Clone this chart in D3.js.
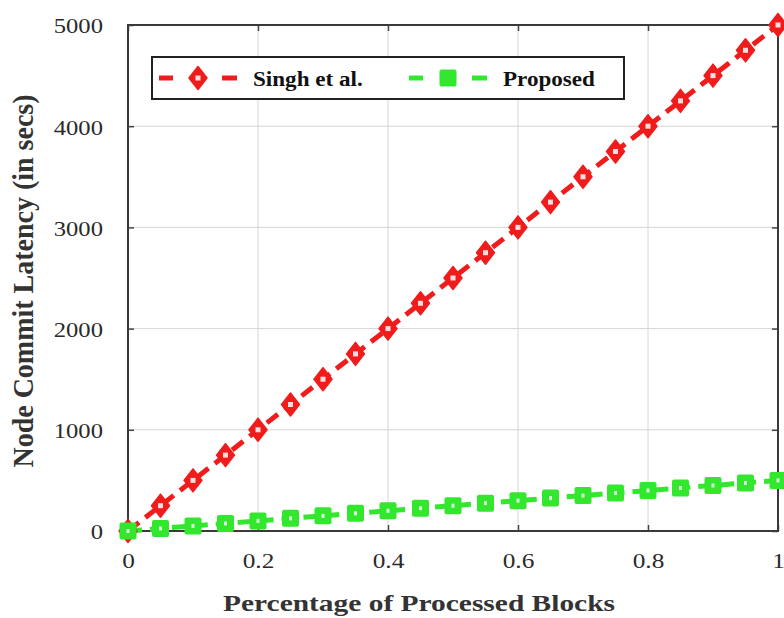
<!DOCTYPE html>
<html>
<head>
<meta charset="utf-8">
<script src="https://cdn.jsdelivr.net/npm/d3@7"></script>
<style>
  body { margin: 0; background: #fff; }
  text { font-family: "Liberation Serif", "Times New Roman", serif; }
</style>
</head>
<body>
<script>
// fraction of processed blocks
var xValues = [0, 0.05, 0.1, 0.15, 0.2, 0.25, 0.3, 0.35, 0.4, 0.45, 0.5,
               0.55, 0.6, 0.65, 0.7, 0.75, 0.8, 0.85, 0.9, 0.95, 1];
var singh = [0, 250, 500, 750, 1000, 1250, 1500, 1750, 2000, 2250, 2500,
             2750, 3000, 3250, 3500, 3750, 4000, 4250, 4500, 4750, 5000];
var proposed = [0, 25, 50, 75, 100, 125, 150, 175, 200, 225, 250,
                275, 300, 325, 350, 375, 400, 425, 450, 475, 500];
var xTicks = [0, 0.2, 0.4, 0.6, 0.8, 1];
var yTicks = [0, 1000, 2000, 3000, 4000, 5000];
var seriesNames = ["Singh et al.", "Proposed"];

var width = 784, height = 618;
var margin = {top: 25, right: 6, bottom: 87, left: 128};

var svg = d3.select("body").append("svg")
    .attr("width", width)
    .attr("height", height);

var x = d3.scaleLinear().domain([0, 1]).range([margin.left, width - margin.right]);
var y = d3.scaleLinear().domain([0, 5000]).range([height - margin.bottom, margin.top]);

// the source figure is stretched sideways, so widen text with a transform
function widen(sel, sx) {
  sel.each(function() {
    var t = d3.select(this);
    var tx = +t.attr("x") || 0, ty = +t.attr("y") || 0;
    t.attr("x", 0).attr("y", 0)
     .attr("transform", "translate(" + tx + "," + ty + ") scale(" + sx + ",1)");
  });
}

// grid
svg.append("g").selectAll("line")
    .data(xTicks.slice(1, -1))
    .enter().append("line")
    .attr("x1", d => x(d)).attr("x2", d => x(d))
    .attr("y1", y(0)).attr("y2", y(5000))
    .attr("stroke", "#d6d6d6").attr("stroke-width", 1);
svg.append("g").selectAll("line")
    .data(yTicks.slice(1, -1))
    .enter().append("line")
    .attr("x1", x(0)).attr("x2", x(1))
    .attr("y1", d => y(d)).attr("y2", d => y(d))
    .attr("stroke", "#d6d6d6").attr("stroke-width", 1);

// axes
var xFmt = d => d === 0 || d === 1 ? d : d3.format(".1f")(d);
var xAxis = svg.append("g")
    .attr("transform", "translate(0," + y(0) + ")")
    .call(d3.axisBottom(x).tickValues(xTicks).tickSize(-6).tickPadding(21).tickFormat(xFmt));
var yAxis = svg.append("g")
    .attr("transform", "translate(" + x(0) + ",0)")
    .call(d3.axisLeft(y).tickValues(yTicks).tickSize(-6).tickPadding(25).tickFormat(d3.format("d")));
var xTop = svg.append("g")
    .attr("transform", "translate(0," + y(5000) + ")")
    .call(d3.axisTop(x).tickValues(xTicks).tickSize(-6).tickFormat(""));
var yRight = svg.append("g")
    .attr("transform", "translate(" + x(1) + ",0)")
    .call(d3.axisRight(y).tickValues(yTicks).tickSize(-6).tickFormat(""));
[xAxis, yAxis, xTop, yRight].forEach(function(a) {
  a.select(".domain").remove();
  a.selectAll(".tick line").attr("stroke", "#444").attr("stroke-width", 1.5);
  a.selectAll("text").attr("font-size", 22).attr("fill", "#2a2a2a")
      .style("font-family", "'Liberation Serif', serif");
});
yAxis.selectAll("text").attr("dy", "0.36em");
widen(xAxis.selectAll("text"), 1.15);
widen(yAxis.selectAll("text"), 1.12);

// frame
svg.append("rect")
    .attr("x", x(0)).attr("y", y(5000))
    .attr("width", x(1) - x(0)).attr("height", y(0) - y(5000))
    .attr("fill", "none").attr("stroke", "#3a3a3a").attr("stroke-width", 2);

// lines
var red = "#f01c1c", green = "#33e62e";
var line = d3.line().x((d, i) => x(xValues[i])).y(d => y(d));
svg.append("path").datum(singh)
    .attr("d", line).attr("fill", "none")
    .attr("stroke", red).attr("stroke-width", 5)
    .attr("stroke-dasharray", "14,8");
svg.append("path").datum(proposed)
    .attr("d", line).attr("fill", "none")
    .attr("stroke", green).attr("stroke-width", 5)
    .attr("stroke-dasharray", "14,8");

// markers
var diamond = "M0,-11.5L9,0L0,11.5L-9,0Z";
function redMarker(g) {
  g.append("path").attr("d", diamond).attr("fill", red)
      .attr("stroke", red).attr("stroke-width", 1.5).attr("stroke-linejoin", "round");
  g.append("rect").attr("x", -2.5).attr("y", -2.5).attr("width", 5).attr("height", 5)
      .attr("fill", "#fff").attr("opacity", 0.85);
}
function greenMarker(g, hole) {
  g.append("rect").attr("x", -8.5).attr("y", -8.5).attr("width", 17).attr("height", 17)
      .attr("rx", 2).attr("fill", green);
  if (hole) {
    g.append("rect").attr("x", -1.5).attr("y", -2).attr("width", 3).attr("height", 4)
        .attr("fill", "#fff").attr("opacity", 0.8);
  }
}
svg.append("g").selectAll("g")
    .data(singh)
    .enter().append("g")
    .attr("transform", (d, i) => "translate(" + x(xValues[i]) + "," + y(d) + ")")
    .each(function() { redMarker(d3.select(this)); });
svg.append("g").selectAll("g")
    .data(proposed)
    .enter().append("g")
    .attr("transform", (d, i) => "translate(" + x(xValues[i]) + "," + y(d) + ")")
    .each(function() { greenMarker(d3.select(this), true); });

// legend
var legend = svg.append("g");
legend.append("rect")
    .attr("x", 152).attr("y", 57).attr("width", 472).attr("height", 42)
    .attr("fill", "#fff").attr("stroke", "#222").attr("stroke-width", 2);
var lg = [
  {name: seriesNames[0], color: red, x0: 159},
  {name: seriesNames[1], color: green, x0: 409}
];
lg.forEach(function(s, k) {
  var g = legend.append("g").attr("transform", "translate(" + s.x0 + ",78)");
  g.append("line").attr("x1", 0).attr("x2", 14).attr("stroke", s.color).attr("stroke-width", 5);
  g.append("line").attr("x1", 63).attr("x2", 78).attr("stroke", s.color).attr("stroke-width", 5);
  var m = g.append("g").attr("transform", "translate(39,0)");
  if (k === 0) redMarker(m); else greenMarker(m, false);
  var t = g.append("text").attr("x", 94).attr("y", 8)
      .attr("font-size", 21).attr("font-weight", "bold").attr("fill", "#111")
      .text(s.name);
  widen(t, 1.1);
});

// axis titles
var xTitle = svg.append("text")
    .attr("x", 419).attr("y", 611)
    .attr("text-anchor", "middle")
    .attr("font-size", 23).attr("font-weight", "bold").attr("fill", "#333")
    .text("Percentage of Processed Blocks");
widen(xTitle, 1.28);
svg.append("text")
    .attr("transform", "translate(33," + (y(2500) + 3) + ") rotate(-90) scale(1.12,1.2)")
    .attr("text-anchor", "middle")
    .attr("font-size", 25).attr("font-weight", "bold").attr("fill", "#333")
    .text("Node Commit Latency (in secs)");
</script>
</body>
</html>
